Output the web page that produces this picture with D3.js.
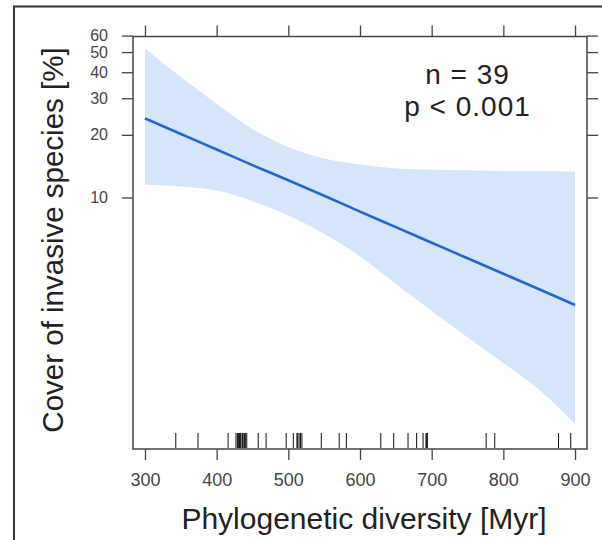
<!DOCTYPE html>
<html>
<head>
<meta charset="utf-8">
<script src="https://cdn.jsdelivr.net/npm/d3@7"></script>
<style>
  body { margin: 0; background: #fff; }
  svg { display: block; font-family: "Liberation Sans", Arial, sans-serif; }
</style>
</head>
<body>
<svg id="chart" width="602" height="540"></svg>
<script>
// effect of phylogenetic diversity on invasive cover
const xGrid = [300, 350, 400, 450, 500, 550, 600, 650, 700, 750, 800, 850, 900];
const fit   = [24.0, 20.2, 17.0, 14.3, 12.1, 10.2, 8.55, 7.20, 6.06, 5.10, 4.30, 3.62, 3.04];
const upper = [52.2, 37.9, 28.2, 21.3, 17.5, 15.4, 14.4, 13.8, 13.6, 13.5, 13.4, 13.4, 13.3];
const lower = [11.5, 11.3, 10.8, 9.6, 8.2, 6.7, 5.2, 3.84, 2.85, 2.13, 1.60, 1.19, 0.815];

// rug of observed plots (n = 39)
const rug = [343, 374, 416, 427, 429, 430, 431, 432, 433, 434, 436, 437, 439, 440, 442,
             458, 469, 497, 507, 512, 513, 515, 517, 519, 546, 571, 581, 629, 647, 667,
             679, 688, 692, 693, 694, 776, 788, 877, 894];

const xTicks = [300, 400, 500, 600, 700, 800, 900];
const yTicks = [10, 20, 30, 40, 50, 60];
const xDomain = [283.3, 916.7];
const yDomain = [0.618, 59.4];

const BAND = "#d5e6fa";
const LINE = "#2466d0";
const FRAME = "#444";
const TEXT = "#444";

const margin = {top: 36.5, right: 15, bottom: 91, left: 133};
const W = 602, H = 540;
const width = W - margin.left - margin.right;
const height = H - margin.top - margin.bottom;

const svg = d3.select("#chart");

// outer figure border (top and left only, the picture is cropped)
svg.append("path")
    .attr("d", `M14,540V6.5H602`)
    .attr("fill", "none")
    .attr("stroke", "#333")
    .attr("stroke-width", 2);

const g = svg.append("g")
    .attr("transform", `translate(${margin.left},${margin.top})`);

const x = d3.scaleLinear().domain(xDomain).range([0, width]);
const y = d3.scaleLog().domain(yDomain).range([height, 0]);

const rows = xGrid.map((v, i) => ({x: v, fit: fit[i], lo: lower[i], hi: upper[i]}));

g.append("path")
    .datum(rows)
    .attr("fill", BAND)
    .attr("d", d3.area()
        .curve(d3.curveMonotoneX)
        .x(d => x(d.x))
        .y0(d => y(d.lo))
        .y1(d => y(d.hi)));

g.append("path")
    .datum(rows)
    .attr("fill", "none")
    .attr("stroke", LINE)
    .attr("stroke-width", 2.6)
    .attr("d", d3.line()
        .curve(d3.curveMonotoneX)
        .x(d => x(d.x))
        .y(d => y(d.fit)));

// rug
g.append("g")
    .attr("stroke", "#111")
    .attr("stroke-width", 1)
    .selectAll("line")
    .data(rug)
    .join("line")
    .attr("x1", d => x(d)).attr("x2", d => x(d))
    .attr("y1", height - 16).attr("y2", height - 1);

// axes
function style(ax, size) {
    ax.select(".domain").remove();
    ax.selectAll(".tick line").attr("stroke", FRAME).attr("stroke-width", 1.3);
    ax.selectAll(".tick text")
        .attr("fill", TEXT)
        .style("font-size", size + "px")
        .style("font-family", "'Liberation Sans', Arial, sans-serif");
}

g.append("g")
    .attr("transform", `translate(0,${height})`)
    .call(d3.axisBottom(x).tickValues(xTicks).tickSize(11).tickPadding(13).tickFormat(d3.format("d")))
    .call(style, 18);

g.append("g")
    .call(d3.axisTop(x).tickValues(xTicks).tickSize(11).tickFormat(""))
    .call(style, 18);

g.append("g")
    .call(d3.axisLeft(y).tickValues(yTicks).tickSize(11).tickPadding(14).tickFormat(d3.format("d")))
    .call(style, 16);

g.append("g")
    .attr("transform", `translate(${width},0)`)
    .call(d3.axisRight(y).tickValues(yTicks).tickSize(11).tickFormat(""))
    .call(style, 16);

// panel frame
g.append("rect")
    .attr("width", width)
    .attr("height", height)
    .attr("fill", "none")
    .attr("stroke", FRAME)
    .attr("stroke-width", 1.5);

// annotation
const note = g.append("g")
    .attr("text-anchor", "middle")
    .attr("fill", "#222")
    .style("font-size", "28px")
    .style("letter-spacing", "1px");

note.append("text")
    .attr("x", x(750))
    .attr("y", 47)
    .text("n = 39");

note.append("text")
    .attr("x", x(750))
    .attr("y", 79)
    .text("p < 0.001");

// axis titles
svg.append("text")
    .attr("x", margin.left + width / 2 + 4)
    .attr("y", 529)
    .attr("text-anchor", "middle")
    .attr("fill", "#222")
    .style("font-size", "30px")
    .text("Phylogenetic diversity [Myr]");

svg.append("text")
    .attr("transform", `translate(63,${240}) rotate(-90)`)
    .attr("text-anchor", "middle")
    .attr("fill", "#222")
    .style("font-size", "29.5px")
    .text("Cover of invasive species [%]");
</script>
</body>
</html>
